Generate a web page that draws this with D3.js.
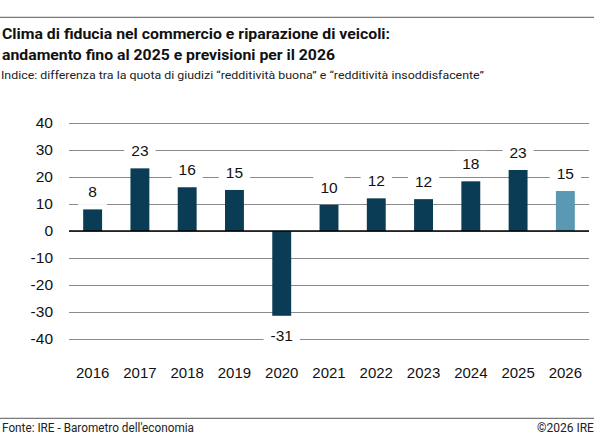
<!DOCTYPE html>
<html>
<head>
<meta charset="utf-8">
<script src="https://cdn.jsdelivr.net/npm/d3@7"></script>
<style>
  body { margin: 0; background: #fff; }
  svg { display: block; }
</style>
</head>
<body>
<svg width="594" height="438"></svg>
<script>
// Data
const years = ["2016", "2017", "2018", "2019", "2020", "2021", "2022", "2023", "2024", "2025", "2026"];
const values = [8.0, 23.2, 16.2, 15.2, -31.4, 9.7, 12.1, 11.8, 18.4, 22.6, 14.8];
const forecastYears = ["2026"];
const yTicks = [40, 30, 20, 10, 0, -10, -20, -30, -40];

const title1 = "Clima di fiducia nel commercio e riparazione di veicoli:";
const title2 = "andamento fino al 2025 e previsioni per il 2026";
const subtitle = "Indice: differenza tra la quota di giudizi \u201credditività buona\u201d e \u201credditività insoddisfacente\u201d";
const source = "Fonte: IRE - Barometro dell'economia";
const copyright = "\u00a92026 IRE";

const textFont = "'Liberation Sans Narrow', 'Roboto', 'Liberation Sans', sans-serif";
const numFont = "'Liberation Sans', Arial, sans-serif";

const svg = d3.select("svg");
const W = 594;

// plain hyphen for negatives, like the original
const fmt = v => String(Math.round(v));

// squeeze/stretch a text to the width measured on the reference
function fit(sel, w) {
    const len = sel.node().getComputedTextLength();
    if (Math.abs(len - w) > 1) sel.attr("textLength", w).attr("lengthAdjust", "spacingAndGlyphs");
    return sel;
}

// rules top and bottom
svg.append("line").attr("x1", 0).attr("x2", W).attr("y1", 17.3).attr("y2", 17.3)
   .attr("stroke", "#7a7a7a").attr("stroke-width", 1.3);
svg.append("line").attr("x1", 0).attr("x2", W).attr("y1", 418.3).attr("y2", 418.3)
   .attr("stroke", "#7a7a7a").attr("stroke-width", 1.3);

// titles
fit(svg.append("text").attr("x", 2).attr("y", 39.3).attr("font-family", textFont)
   .attr("font-weight", "bold").attr("font-size", 15.5).attr("fill", "#111").text(title1), 388);
fit(svg.append("text").attr("x", 2).attr("y", 60).attr("font-family", textFont)
   .attr("font-weight", "bold").attr("font-size", 15.5).attr("fill", "#111").text(title2), 333);
fit(svg.append("text").attr("x", 1).attr("y", 78.5).attr("font-family", textFont)
   .attr("font-size", 11.5).attr("fill", "#222").text(subtitle), 483);

// footer
fit(svg.append("text").attr("x", 2).attr("y", 432).attr("font-family", textFont)
   .attr("font-size", 12).attr("fill", "#222").text(source), 192);
fit(svg.append("text").attr("x", 537).attr("y", 432).attr("font-family", textFont)
   .attr("font-size", 12).attr("fill", "#222").text(copyright), 56);

// scales
const x = d3.scaleBand().domain(years).range([69, 589]).paddingInner(0.6).paddingOuter(0.3);
const y = d3.scaleLinear().domain([-40, 40]).range([339, 123]);

// y grid + labels
const yAxis = svg.append("g")
    .attr("transform", "translate(69,0)")
    .call(d3.axisLeft(y).tickValues(yTicks).tickSize(-520).tickPadding(16).tickFormat(fmt));
yAxis.select(".domain").remove();
yAxis.selectAll(".tick line").attr("stroke", "#8a8a8a").attr("stroke-width", 1);
yAxis.selectAll(".tick text").attr("font-family", numFont).attr("font-size", 15.5).attr("fill", "#111");

// x labels
const xAxis = svg.append("g")
    .attr("transform", "translate(0,339)")
    .call(d3.axisBottom(x).tickSize(0).tickPadding(28.5));
xAxis.select(".domain").remove();
xAxis.selectAll(".tick text").attr("font-family", numFont).attr("font-size", 15).attr("fill", "#111");

// bars
const data = years.map((yr, i) => ({ year: yr, value: values[i] }));
svg.append("g").selectAll("rect")
    .data(data)
    .join("rect")
    .attr("x", d => x(d.year))
    .attr("width", x.bandwidth())
    .attr("y", d => y(Math.max(0, d.value)))
    .attr("height", d => Math.abs(y(d.value) - y(0)))
    .attr("fill", d => forecastYears.includes(d.year) ? "#5b98b3" : "#0b3c55");

// zero line
svg.append("line").attr("x1", 69).attr("x2", 589).attr("y1", y(0)).attr("y2", y(0))
   .attr("stroke", "#000").attr("stroke-width", 1.6);

// value labels with white boxes that cut the gridlines
const labels = svg.append("g").selectAll("g")
    .data(data)
    .join("g")
    .attr("transform", d => {
        const cy = d.value >= 0 ? y(d.value) - 17.5 : y(d.value) + 20;
        return `translate(${x(d.year) + x.bandwidth() / 2},${cy})`;
    });
labels.append("rect").attr("fill", "#fff");
labels.append("text")
    .attr("text-anchor", "middle")
    .attr("dy", "0.36em")
    .attr("font-family", numFont)
    .attr("font-size", 15.5)
    .attr("fill", "#111")
    .text(d => fmt(d.value));
labels.each(function () {
    const g = d3.select(this);
    const tw = g.select("text").node().getComputedTextLength();
    const bw = Math.max(tw + 14, 29);
    g.select("rect").attr("x", -bw / 2).attr("y", -13).attr("width", bw).attr("height", 26);
});
</script>
</body>
</html>
